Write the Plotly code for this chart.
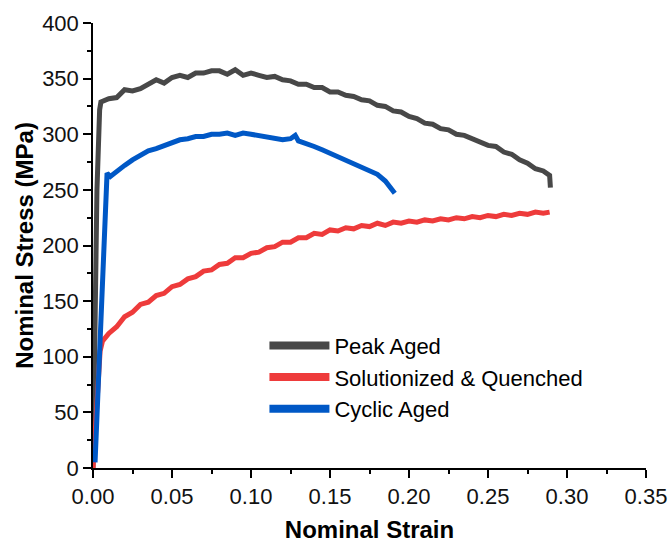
import plotly.graph_objects as go

# ---- data ----
peak_strain = [0.0, 0.0025, 0.0042, 0.005, 0.010, 0.015, 0.020, 0.025, 0.030, 0.035, 0.040, 0.045,
               0.050, 0.055, 0.060, 0.065, 0.070, 0.075, 0.080, 0.085, 0.090, 0.095, 0.100, 0.105,
               0.110, 0.115, 0.120, 0.125, 0.130, 0.135, 0.140, 0.145, 0.150, 0.155, 0.160, 0.165,
               0.170, 0.175, 0.180, 0.185, 0.190, 0.195, 0.200, 0.205, 0.210, 0.215, 0.220, 0.225,
               0.230, 0.235, 0.240, 0.245, 0.250, 0.255, 0.260, 0.265, 0.270, 0.275, 0.280, 0.285,
               0.289, 0.2895]
peak_stress = [0, 250, 322, 329, 332, 333, 340, 339, 341, 345, 349, 346,
               351, 353, 351, 355, 355, 357, 357, 354, 358, 353, 355, 353,
               351, 352, 349, 348, 345, 345, 342, 342, 338, 338, 335, 334,
               331, 330, 326, 325, 321, 320, 316, 314, 310, 309, 305, 304,
               300, 299, 296, 294, 290, 289, 284, 282, 277, 274, 269, 267,
               263, 252]

sq_strain = [0.0, 0.003, 0.0045, 0.006, 0.010, 0.015, 0.020, 0.025, 0.030, 0.035, 0.040, 0.045,
             0.050, 0.055, 0.060, 0.065, 0.070, 0.075, 0.080, 0.085, 0.090, 0.095, 0.100, 0.105,
             0.110, 0.115, 0.120, 0.125, 0.130, 0.135, 0.140, 0.145, 0.150, 0.155, 0.160, 0.165,
             0.170, 0.175, 0.180, 0.185, 0.190, 0.195, 0.200, 0.205, 0.210, 0.215, 0.220, 0.225,
             0.230, 0.235, 0.240, 0.245, 0.250, 0.255, 0.260, 0.265, 0.270, 0.275, 0.280, 0.285,
             0.289]
sq_stress = [0, 80, 105, 114, 121, 127, 136, 140, 147, 149, 155, 157,
             163, 165, 170, 172, 177, 178, 183, 184, 189, 189, 193, 194,
             198, 199, 203, 203, 207, 207, 211, 210, 214, 213, 216, 215,
             218, 217, 220, 218, 221, 220, 222, 221, 223, 222, 224, 223,
             225, 224, 226, 225, 227, 226, 228, 227, 229, 228, 230, 229,
             230]

ca_strain = [0.0013, 0.005, 0.0089, 0.011, 0.015, 0.020, 0.025, 0.030, 0.035, 0.040, 0.045,
             0.050, 0.055, 0.060, 0.065, 0.070, 0.075, 0.080, 0.085, 0.090, 0.095, 0.100, 0.105,
             0.110, 0.115, 0.120, 0.125, 0.128, 0.130, 0.135, 0.140, 0.145, 0.150, 0.155, 0.160,
             0.165, 0.170, 0.175, 0.180, 0.185, 0.188, 0.191]
ca_stress = [5, 138, 265, 262, 267, 272, 277, 281, 285, 287, 290,
             292, 295, 296, 298, 298, 300, 300, 301, 299, 301, 300, 299,
             298, 296, 295, 296, 299, 294, 292, 289, 286, 283, 280, 276,
             273, 270, 267, 264, 258, 252, 247]

series_names = ["Peak Aged", "Solutionized & Quenched", "Cyclic Aged"]
series_colors = ["#484848", "#ee3b3b", "#0058c6"]

x_ticks = [0.00, 0.05, 0.10, 0.15, 0.20, 0.25, 0.30, 0.35]
x_tick_labels = ["0.00", "0.05", "0.10", "0.15", "0.20", "0.25", "0.30", "0.35"]
y_ticks = [0, 50, 100, 150, 200, 250, 300, 350, 400]

FONT = "Liberation Sans, Arial, sans-serif"

fig = go.Figure()
data = [(peak_strain, peak_stress), (sq_strain, sq_stress), (ca_strain, ca_stress)]
for (xs, ys), name, col in zip(data, series_names, series_colors):
    fig.add_trace(go.Scatter(x=xs, y=ys, mode="lines", name=name, showlegend=False,
                             line=dict(color=col, width=5)))
# legend-only entries with thicker sample lines
for name, col in zip(series_names, series_colors):
    fig.add_trace(go.Scatter(x=[None], y=[None], mode="lines", name=name,
                             line=dict(color=col, width=8)))

axis_common = dict(showline=True, linecolor="black", linewidth=1.5, mirror=False,
                   ticks="outside", ticklen=8, tickwidth=1.5, tickcolor="black",
                   showgrid=False, zeroline=False,
                   tickfont=dict(family=FONT, size=22, color="#111"))

fig.update_xaxes(range=[0, 0.35], tickvals=x_ticks, ticktext=x_tick_labels,
                 title=dict(text="<b>Nominal Strain</b>", font=dict(family=FONT, size=24, color="black"),
                            standoff=16),
                 minor=dict(ticks="outside", ticklen=4, tickwidth=1.5, tickcolor="black", dtick=0.025),
                 **axis_common)
fig.update_yaxes(range=[0, 400], tickvals=y_ticks,
                 title=dict(text="<b>Nominal Stress (MPa)</b>", font=dict(family=FONT, size=24, color="black"),
                            standoff=2),
                 minor=dict(ticks="outside", ticklen=4, tickwidth=1.5, tickcolor="black", dtick=25),
                 **axis_common)

fig.update_layout(
    width=671, height=543,
    margin=dict(l=93, r=25, t=23, b=75, autoexpand=False),
    plot_bgcolor="white", paper_bgcolor="white",
    font=dict(family=FONT, color="black"),
    legend=dict(x=0.31, y=0.322, xanchor="left", yanchor="top",
                font=dict(family=FONT, size=22, color="black"),
                itemwidth=60, tracegroupgap=0, bgcolor="rgba(0,0,0,0)"),
)

fig.write_html("out.html")
